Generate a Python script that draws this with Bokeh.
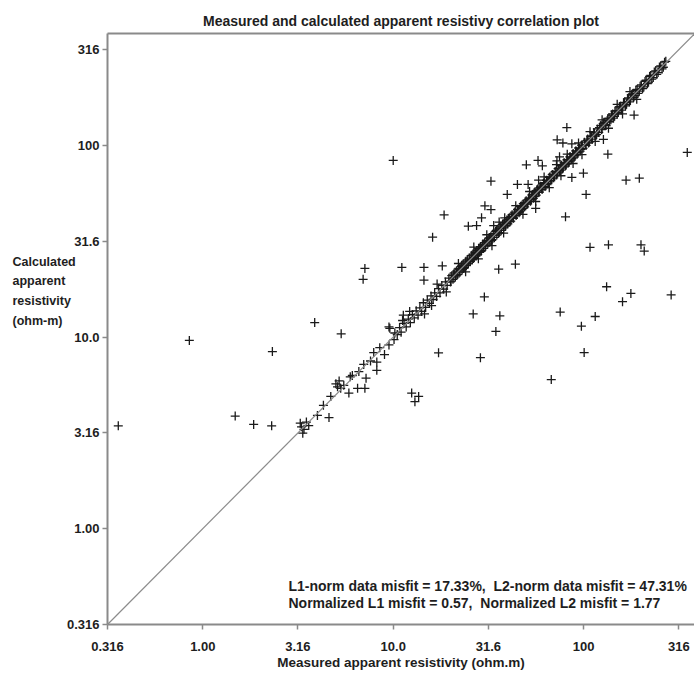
from bokeh.plotting import figure
from bokeh.models import (Range1d, FixedTicker, CustomJSTickFormatter, Label,
                          Slope, LogAxis, ColumnDataSource)
from bokeh.embed import file_html
from bokeh.resources import INLINE

# ---- data ----
tick_values = [0.316, 1.0, 3.16, 10.0, 31.6, 100.0, 316.0]
tick_labels = ["0.316", "1.00", "3.16", "10.0", "31.6", "100", "316"]

near_line = [
    (3.3, 3.4), (3.4, 3.3), (3.5, 3.6), (3.35, 3.15), (3.6, 3.45), (3.25, 3.55),
    (4.0, 3.9), (4.6, 3.8), (4.3, 4.4), (4.7, 4.9),
    (5.1, 5.5), (5.0, 5.7), (5.3, 5.4), (5.2, 5.9), (5.5, 5.6), (5.85, 5.1),
    (6.5, 5.4), (7.1, 5.4), (5.95, 6.2), (6.6, 6.6), (7.2, 6.1), (8.2, 7.4),
    (9.0, 8.1), (9.5, 9.1), (9.6, 11.1), (9.5, 11.3), (10.1, 9.7), (10.2, 10.5),
    (8.2, 6.7), (6.1, 6.3), (7.0, 7.2), (7.6, 7.5), (8.5, 8.8), (7.9, 8.3),
    (10.5, 10.3), (10.8, 11.2), (11.0, 10.6), (11.4, 11.8), (11.7, 11.3), (12.0, 12.4),
    (12.3, 11.9), (12.6, 13.1), (12.9, 12.6), (13.2, 13.7), (13.5, 13.0), (13.8, 14.2),
    (14.1, 13.6), (14.4, 15.1), (14.8, 14.3), (15.1, 15.6), (15.5, 15.0), (15.8, 16.4),
    (16.2, 15.7), (16.5, 17.0), (16.9, 16.3), (17.3, 17.9), (17.6, 17.0), (18.0, 18.6),
    (18.4, 17.8), (18.8, 19.4), (19.2, 18.6), (19.6, 20.3), (20.0, 19.4), (12.2, 13.6),
    (14.6, 13.2), (17.0, 18.9), (19.0, 17.2), (11.2, 12.2), (15.9, 14.6),
    (20.3, 20.9), (20.6, 20.0), (20.9, 21.6), (21.2, 20.6), (21.5, 22.1), (21.8, 21.2),
    (22.1, 22.8), (22.4, 21.8), (22.7, 23.3), (23.0, 22.4), (23.3, 24.0), (23.6, 23.0),
    (23.9, 24.6), (24.2, 23.6), (24.5, 25.3), (24.8, 24.1), (25.1, 25.8), (25.4, 24.8),
    (25.7, 26.5), (26.0, 25.4), (26.3, 27.1), (26.6, 26.0), (26.9, 27.7), (27.2, 26.5),
    (27.5, 28.3), (27.8, 27.1), (28.1, 29.0), (28.4, 27.7), (28.7, 29.6), (29.0, 28.3),
    (29.4, 30.3), (29.8, 29.0), (30.2, 31.1), (30.6, 29.8), (31.0, 32.0), (31.4, 30.6),
    (31.8, 32.8), (32.2, 31.4), (32.6, 33.6), (33.0, 32.2), (33.5, 34.6), (34.0, 33.1),
    (34.5, 35.6), (35.0, 34.1), (35.5, 36.6), (36.0, 35.1), (36.5, 37.6), (37.0, 36.1),
    (37.5, 38.7), (38.0, 37.1), (38.5, 39.7), (39.0, 38.0), (39.5, 40.8), (22.0, 24.2),
    (24.0, 21.9), (26.5, 29.5), (28.0, 25.6), (31.0, 34.2), (33.0, 30.0), (36.0, 39.8),
    (38.0, 34.9),
    (20.1, 19.6), (20.8, 21.3), (21.4, 21.0), (22.3, 22.5), (22.9, 23.6), (23.4, 22.8),
    (24.1, 24.9), (24.7, 24.3), (25.3, 25.0), (25.9, 26.7), (26.4, 25.7), (27.0, 27.4),
    (27.6, 27.0), (28.3, 28.8), (28.9, 28.0), (29.6, 30.5), (30.4, 30.0), (31.2, 31.6),
    (32.0, 32.9), (32.8, 32.0), (33.8, 34.0), (34.8, 35.9), (35.8, 34.9), (36.8, 37.0),
    (37.8, 39.0), (38.8, 38.1), (39.8, 39.3),
    (40.0, 39.0), (40.7, 42.0), (41.4, 40.3), (42.1, 43.5), (42.8, 41.7), (43.5, 44.9),
    (44.2, 43.1), (45.0, 46.4), (45.8, 44.6), (46.6, 48.0), (47.4, 46.2), (48.2, 49.7),
    (49.0, 47.8), (49.9, 51.4), (50.8, 49.5), (51.7, 53.3), (52.6, 51.2), (53.5, 55.2),
    (54.4, 53.0), (55.4, 57.1), (56.4, 55.0), (57.4, 59.2), (58.4, 56.9), (59.4, 61.3),
    (60.5, 58.9), (61.6, 63.5), (62.7, 61.1), (63.8, 65.8), (64.9, 63.2), (66.0, 68.1),
    (67.2, 65.5), (68.4, 70.5), (69.6, 67.8), (70.8, 73.0), (72.1, 70.2), (73.4, 75.7),
    (74.7, 72.8), (76.0, 78.4), (77.4, 75.4), (78.8, 81.2), (80.2, 78.1), (81.6, 84.1),
    (83.1, 80.9), (84.6, 87.2), (86.1, 83.9), (87.6, 90.3), (89.2, 86.9), (90.8, 93.6),
    (92.4, 90.0), (94.1, 97.0), (95.8, 93.3), (97.5, 100.5), (99.2, 96.6), (44.0, 48.5),
    (48.0, 43.7), (52.0, 57.5), (56.0, 51.0), (62.0, 68.5), (66.0, 60.2), (72.0, 79.5),
    (76.0, 69.5), (82.0, 90.0), (88.0, 80.5), (94.0, 103.0), (98.0, 89.5),
    (40.3, 41.2), (41.0, 40.0), (41.8, 42.6), (42.5, 42.0), (43.2, 44.3), (44.6, 44.0),
    (45.4, 46.0), (46.2, 45.3), (47.0, 48.3), (47.8, 47.0), (48.6, 48.9), (49.5, 50.5),
    (50.4, 49.4), (51.3, 52.4), (52.2, 52.7), (53.1, 52.3), (54.0, 55.5), (54.9, 54.1),
    (55.9, 56.4), (56.9, 58.3), (57.9, 57.0), (58.9, 60.2), (60.0, 60.4), (61.1, 60.0),
    (62.2, 63.9), (63.3, 62.8), (64.4, 65.7), (65.5, 64.6), (66.6, 68.6), (67.8, 67.0),
    (69.0, 70.6), (70.2, 69.3), (71.5, 72.9), (72.7, 71.8), (74.0, 75.8), (75.3, 74.1),
    (76.7, 78.6), (78.1, 77.0), (79.5, 81.0), (80.9, 79.8), (82.3, 84.2), (83.8, 82.6),
    (85.3, 87.0), (86.8, 85.5), (88.4, 90.4), (90.0, 88.6), (91.6, 93.4), (93.2, 92.0),
    (95.0, 96.5), (96.6, 95.3), (98.3, 100.2),
    (101, 104), (103, 100), (105, 108), (107, 104), (109, 112), (111, 108),
    (113, 117), (115, 112), (118, 122), (120, 117), (123, 127), (125, 122),
    (128, 132), (131, 127), (134, 138), (137, 133), (140, 144), (143, 139),
    (146, 151), (150, 146), (154, 159), (158, 153), (162, 167), (166, 161),
    (170, 175), (174, 169), (178, 184), (183, 178), (188, 194), (193, 187),
    (198, 204), (204, 198), (210, 216), (216, 210), (222, 229), (228, 222),
    (235, 242), (242, 235), (250, 257), (258, 251), (266, 272), (108, 118),
    (115, 105), (125, 136), (135, 123), (150, 164), (160, 146), (175, 191),
    (190, 174), (184, 144),
    (102, 101), (104, 106), (106, 103), (110, 111), (114, 116), (117, 114),
    (121, 124), (124, 121), (127, 130), (130, 128), (133, 135), (136, 139),
    (139, 136), (142, 146), (145, 142), (148, 152), (152, 149), (156, 160),
    (160, 157), (164, 168), (168, 164), (172, 177), (176, 173), (181, 186),
    (186, 182), (191, 196), (196, 192), (201, 207), (207, 202), (213, 219),
    (219, 214), (225, 232), (232, 226), (239, 245), (246, 240), (254, 260),
    (262, 256), (270, 275),
]

off_line = [
    (0.36, 3.44), (0.85, 9.6), (1.48, 3.87), (1.85, 3.5), (2.3, 3.44), (2.32, 8.4),
    (3.87, 11.9), (5.33, 10.4), (7.1, 22.8), (6.95, 20.0), (11.1, 23.1), (14.5, 23.1),
    (14.5, 19.8), (18.1, 23.5), (16.1, 33.2), (18.5, 43.4), (17.3, 8.27), (12.5, 5.1),
    (13.0, 4.6), (13.6, 4.9), (28.7, 7.8), (30.1, 16.2), (26.3, 13.2), (34.6, 10.7),
    (36.3, 12.9), (35.8, 22.6), (43.8, 24.0), (11.3, 13.0), (10.0, 83.5), (350, 92),
    (81.6, 124), (72.6, 107), (77.8, 103), (86.7, 102), (74.7, 87.2), (72.4, 83.1),
    (57.6, 83.5), (60.7, 78.3), (50.0, 79.2), (32.6, 65.1), (44.9, 62.6), (51.1, 62.6),
    (58.0, 65.9), (39.7, 55.5), (30.3, 48.4), (32.6, 46.3), (29.1, 41.9), (24.8, 37.9),
    (27.4, 38.2), (33.7, 38.2), (38.5, 41.9), (80.3, 42.4), (56.0, 46.9), (86.7, 68.1),
    (99.7, 71.7), (103, 55.5), (127, 107.5), (134, 90), (167, 65.9), (196, 67.5),
    (108, 29.4), (135, 30.3), (200, 30.3), (208, 28.1), (132, 18.3), (177, 16.9),
    (160, 15.3), (288, 16.6), (75.3, 13.5), (115, 12.8), (97.3, 11.4), (67.6, 6.0),
    (100.6, 8.3),
]

measured = [p[0] for p in near_line] + [p[0] for p in off_line]
calculated = [p[1] for p in near_line] + [p[1] for p in off_line]

title_text = "Measured and calculated apparent resistivy correlation plot"
x_label = "Measured apparent resistivity (ohm.m)"
y_label = "Calculated\napparent\nresistivity\n(ohm-m)"
misfit_lines = ["L1-norm data misfit = 17.33%,\u00a0\u00a0L2-norm data misfit = 47.31%",
                "Normalized L1 misfit = 0.57,\u00a0\u00a0Normalized L2 misfit = 1.77"]

# ---- figure ----
FONT = "Liberation Sans, Arial, sans-serif"
AX = "#8a8a8a"
TXT = "#1e1e1e"

p = figure(width=694, height=676, x_axis_type="log", y_axis_type="log",
           x_range=Range1d(0.316, 382), y_range=Range1d(0.316, 384),
           output_backend="svg", toolbar_location=None,
           min_border_left=104, min_border_right=0,
           min_border_top=33, min_border_bottom=52)
p.outline_line_color = None
p.grid.visible = False
p.background_fill_color = "white"
p.border_fill_color = "white"

p.title.text = title_text
p.title.align = "center"
p.title.text_font = FONT
p.title.text_font_style = "bold"
p.title.text_font_size = "14px"
p.title.text_color = TXT
p.title.standoff = 9
p.title.offset = 3

fmt = CustomJSTickFormatter(args=dict(vals=tick_values, labs=tick_labels), code="""
let b = 0, d = 1e9;
for (let i = 0; i < vals.length; i++) {
  const e = Math.abs(Math.log(tick / vals[i]));
  if (e < d) { d = e; b = i; }
}
return labs[b];
""")

for ax in (p.xaxis[0], p.yaxis[0]):
    ax.ticker = FixedTicker(ticks=tick_values)
    ax.formatter = fmt
    ax.axis_line_color = AX
    ax.axis_line_width = 2
    ax.major_tick_line_color = AX
    ax.major_tick_line_width = 1.5
    ax.major_tick_out = 5
    ax.major_tick_in = 0
    ax.minor_tick_line_color = None
    ax.major_label_text_font = FONT
    ax.major_label_text_font_style = "bold"
    ax.major_label_text_font_size = "13px"
    ax.major_label_text_color = TXT
p.yaxis[0].major_label_standoff = 3
p.xaxis[0].major_label_standoff = 12
p.xaxis[0].axis_label = x_label
p.xaxis[0].axis_label_text_font = FONT
p.xaxis[0].axis_label_text_font_style = "bold"
p.xaxis[0].axis_label_text_font_size = "13.5px"
p.xaxis[0].axis_label_text_color = TXT
p.xaxis[0].axis_label_standoff = 1

top = LogAxis(ticker=FixedTicker(ticks=[]), axis_line_color=AX, axis_line_width=2,
              major_tick_line_color=None, minor_tick_line_color=None,
              major_label_text_font_size="0px", major_label_standoff=0)
p.add_layout(top, "above")

p.add_layout(Slope(gradient=1, y_intercept=0, line_color="#8c8c8c", line_width=1.2))

src = ColumnDataSource(data=dict(measured=measured, calculated=calculated))
p.scatter(x="measured", y="calculated", source=src, marker="cross", size=9,
          line_color="#1a1a1a", line_width=1.3)

# multi-line y label, placed in the left side panel (side panels are not clipped)
p.add_layout(Label(x=12, y=370, x_units="screen", y_units="screen", text=y_label,
                   text_align="left", text_baseline="top", text_line_height=1.42,
                   text_font=FONT, text_font_style="bold", text_font_size="12.5px",
                   text_color=TXT), "left")

for txt, yy in zip(misfit_lines, (39, 22)):
    p.add_layout(Label(x=181, y=yy, x_units="screen", y_units="screen", text=txt,
                       text_align="left", text_baseline="middle",
                       text_font=FONT, text_font_style="bold", text_font_size="14px",
                       text_color=TXT))

open("out.html", "w").write(file_html(p, INLINE))
